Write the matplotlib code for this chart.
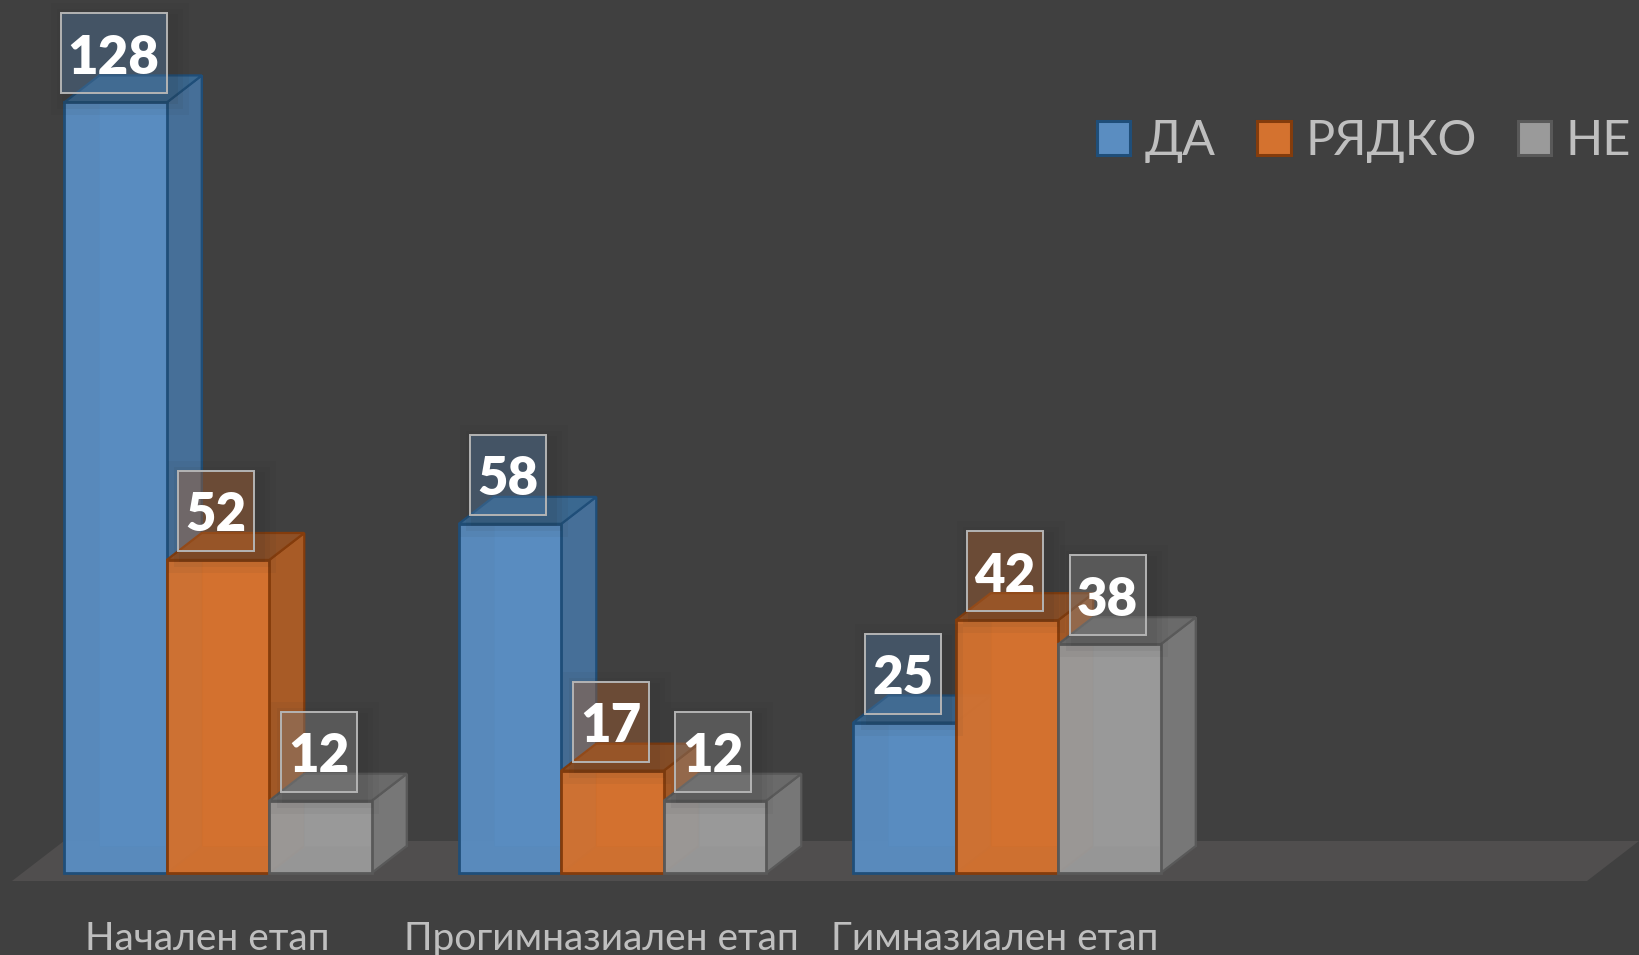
import matplotlib
matplotlib.use("Agg")
import matplotlib.pyplot as plt
from matplotlib.patches import Polygon, Rectangle, Patch

categories = ["Начален етап", "Прогимназиален етап", "Гимназиален етап"]
series_names = ["ДА", "РЯДКО", "НЕ"]
da_values = [128, 58, 25]
ryadko_values = [52, 17, 42]
ne_values = [12, 12, 38]
all_values = [da_values, ryadko_values, ne_values]

front = ["#5A8DC1", "#D4722F", "#9A9A9A"]
side = ["#466F98", "#A85B26", "#777777"]
top = ["#3A6890", "#8E5026", "#6A6A6A"]
edge = ["#1F4E79", "#843C0C", "#595959"]

plt.rcParams["font.family"] = ["Lato", "Open Sans", "DejaVu Sans"]
BG = "#404040"
W, H = 1639, 955
fig = plt.figure(figsize=(W / 100, H / 100), dpi=100, facecolor=BG)
ax = fig.add_axes([0, 0, 1, 1], facecolor=BG)
ax.axis("off")

# scales: pixels per data unit
PX_X, PX_Y = 394.5, 6.02
X0_PX, Y0_PX = 218.0, 873
ax.set_xlim(-X0_PX / PX_X, (W - X0_PX) / PX_X)
ax.set_ylim(-(H - Y0_PX) / PX_Y, Y0_PX / PX_Y)
px = lambda v: v / PX_X
py = lambda v: v / PX_Y

bw = px(102.5)
dx, dy = px(35), py(27)
offsets = [-bw, 0, bw]

# floor
x_left, x_right = px(12 - X0_PX), px(1587 - X0_PX)
fy = py(-8)
ax.add_patch(Polygon([(x_left, fy), (x_right, fy), (x_right + px(52), fy + py(40)),
                      (x_left + px(52), fy + py(40))], closed=True,
                     fc="#504E4E", ec="none", zorder=1))

z = 2
for s in range(3):
    xs = [g + offsets[s] for g in range(len(categories))]
    vals = all_values[s]
    for x, v in zip(xs, vals):
        l, r = x - bw / 2, x + bw / 2
        # back + floor face seen through translucent front
        ax.add_patch(Polygon([(l + dx, dy), (r + dx, dy), (r + dx, v + dy), (l + dx, v + dy)],
                             closed=True, fc=front[s], ec=edge[s], lw=0.8, alpha=0.9, zorder=z))
        ax.add_patch(Polygon([(r, 0), (r + dx, dy), (r + dx, v + dy), (r, v)], closed=True,
                             fc=side[s], ec=edge[s], lw=1.6, zorder=z + 0.1))
        ax.add_patch(Polygon([(l, v), (r, v), (r + dx, v + dy), (l + dx, v + dy)], closed=True,
                             fc=top[s], ec=edge[s], lw=1.6, zorder=z + 0.2))
    ax.bar(xs, vals, width=bw, color=front[s], alpha=0.96, edgecolor="none", zorder=z + 0.3)
    ax.bar(xs, vals, width=bw, color="none", edgecolor=edge[s], linewidth=2.0, zorder=z + 0.4)
    z += 1

# value labels
for s in range(3):
    for g, v in enumerate(all_values[s]):
        cx = g + offsets[s] - px(2)
        w = px(106 if v >= 100 else 76)
        b = v + py(9)
        h = py(80)
        for grow, a in [(16, 0.05), (10, 0.06), (5, 0.08)]:
            ax.add_patch(Rectangle((cx - w / 2 + px(6 - grow), b + py(-6 - grow)),
                                   w + px(2 * grow), h + py(2 * grow),
                                   fc="#2a2a2a", ec="none", alpha=a, zorder=10))
        ax.add_patch(Rectangle((cx - w / 2, b), w, h, fc=front[s], ec="none",
                               alpha=0.32, zorder=11))
        ax.add_patch(Rectangle((cx - w / 2, b), w, h, fc="none", ec="#B4B4B4",
                               lw=1.4, zorder=12))
        ax.text(cx, b + h / 2 - py(5), str(v), ha="center", va="center", color="white",
                fontsize=38, fontweight="heavy", zorder=13)

# category labels
cat_centres = [207, 601, 995]
for c, name in zip(cat_centres, categories):
    ax.text(px(c - X0_PX), py(-66), name, ha="center", va="center",
            color="#BFBFBF", fontsize=28, zorder=13)

# legend
handles = [Patch(fc=front[i], ec=edge[i], lw=2.2, label=series_names[i]) for i in range(3)]
ax.legend(handles=handles, ncol=3, frameon=False, loc="center right",
          bbox_to_anchor=(1631 / W, 1 - 141 / H), bbox_transform=fig.transFigure,
          borderaxespad=0, borderpad=0, fontsize=35, labelcolor="#BFBFBF",
          handlelength=0.684, handleheight=0.717, handletextpad=0.3, columnspacing=0.85)

fig.savefig("out.png", dpi=100, facecolor=BG)
